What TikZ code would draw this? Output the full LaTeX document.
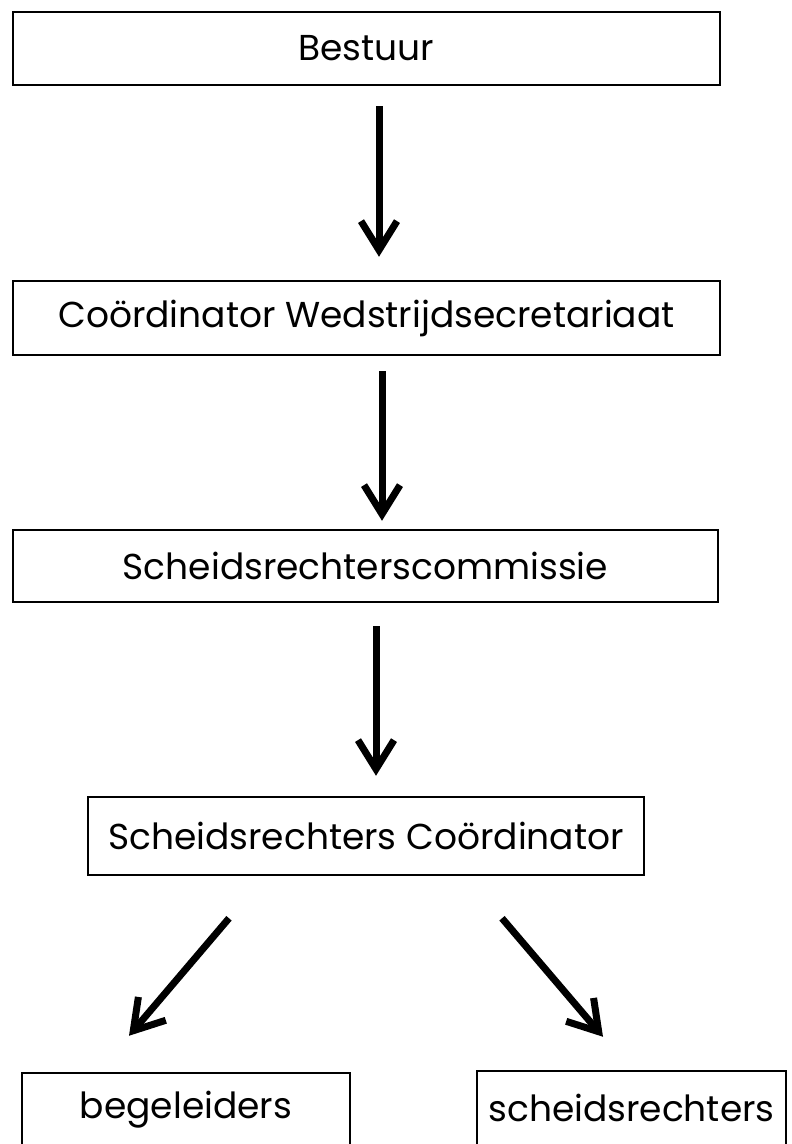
\documentclass[tikz,border=0pt]{standalone}
\usepackage{fontspec}
\setmainfont{Poppins}
\usetikzlibrary{arrows.meta}

\begin{document}
\begin{tikzpicture}[x=1pt, y=-1pt,
    box/.style={draw, line width=2.5pt, inner sep=0pt, font=\fontsize{36}{42}\selectfont},
    arr/.style={line width=7pt, -{Straight Barb[length=29pt, width=36pt]}}]

    \useasboundingbox (0,0) rectangle (792,1144);

    % the boxes, top to bottom
    \node[box, minimum width=707pt, minimum height=73pt] (bestuur) at (366.5, 48.5) {Bestuur};
    \node[box, minimum width=707pt, minimum height=74pt] (wedsec) at (366.5, 318) {Coördinator Wedstrijdsecretariaat};
    \node[box, minimum width=705pt, minimum height=72pt] (commissie) at (365.5, 566) {Scheidsrechterscommissie};
    \node[box, minimum width=556pt, minimum height=78pt] (coord) at (366, 836) {Scheidsrechters Coördinator};
    \node[box, minimum width=328pt, minimum height=74pt] (begel) at (186, 1110) {begeleiders};
    \node[box, minimum width=309pt, minimum height=74pt] (scheids) at (631.5, 1108) {scheidsrechters};

    % the arrows
    \draw[arr] ([xshift=12.5pt, yshift=-20pt]bestuur.south) -- ([xshift=12.5pt, yshift=23pt]wedsec.north);
    \draw[arr] ([xshift=15.5pt, yshift=-15pt]wedsec.south) -- ([xshift=16.5pt, yshift=8pt]commissie.north);
    \draw[arr] ([xshift=10.5pt, yshift=-23pt]commissie.south) -- ([xshift=10pt, yshift=20pt]coord.north);

    \draw[arr] ([xshift=-137pt, yshift=-42pt]coord.south) -- ([xshift=-57pt, yshift=36pt]begel.north);
    \draw[arr] ([xshift=136pt, yshift=-42pt]coord.south) -- ([xshift=-28.5pt, yshift=33pt]scheids.north);

\end{tikzpicture}
\end{document}
